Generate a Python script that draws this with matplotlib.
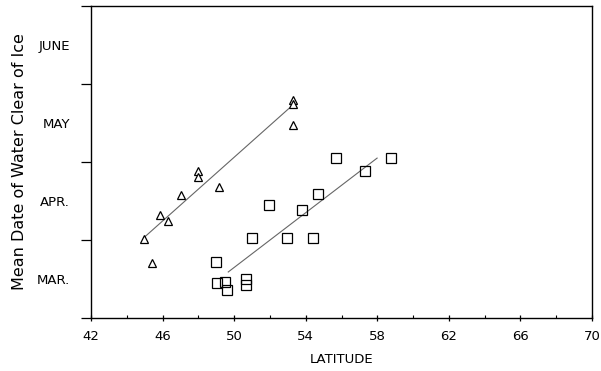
import matplotlib
matplotlib.use("Agg")
import matplotlib.pyplot as plt
import numpy as np

# Triangles (series A)
tri_lat = [44.98, 45.39, 45.87, 46.28, 47.03, 47.98, 47.98, 49.17, 53.27, 53.27, 53.27]
tri_date = [1.01, 0.71, 1.32, 1.25, 1.58, 1.88, 1.81, 1.68, 2.80, 2.74, 2.47]
tri_fit_lat = [44.98, 53.08]
tri_fit_date = [1.035, 2.69]

# Squares (series B)
sq_lat = [49.0, 49.02, 49.49, 49.58, 50.66, 50.66, 50.98, 51.96, 52.97, 53.81,
          54.42, 54.68, 55.71, 57.33, 58.78]
sq_date = [0.72, 0.45, 0.46, 0.36, 0.50, 0.42, 1.02, 1.45, 1.02, 1.38,
           1.02, 1.59, 2.05, 1.88, 2.05]
sq_fit_lat = [49.67, 57.99]
sq_fit_date = [0.59, 2.05]

x_ticks = [42, 46, 50, 54, 58, 62, 66, 70]
month_labels = ["MAR.", "APR.", "MAY", "JUNE"]
month_bounds = [0, 1, 2, 3, 4]

fig = plt.figure(figsize=(6.01, 3.71), dpi=100)
ax = fig.add_axes([91/601, 53/371, 501/601, 312/371])

ax.plot(tri_fit_lat, tri_fit_date, color="#666666", lw=0.8)
ax.plot(sq_fit_lat, sq_fit_date, color="#666666", lw=0.8)
ax.plot(tri_lat, tri_date, ls="none", marker="^", ms=6.3, mfc="white", mec="black", mew=0.9)
ax.plot(sq_lat, sq_date, ls="none", marker="s", ms=6.5, mfc="none", mec="black", mew=0.9)

ax.set_xlim(42, 70)
ax.set_ylim(0, 4)
ax.set_xticks(x_ticks)
ax.set_xticks(np.arange(42, 71, 2), minor=True)
ax.tick_params(axis="x", which="major", direction="inout", length=5, width=0.9, labelsize=9.5, pad=6)
ax.tick_params(axis="x", which="minor", direction="in", length=2.5, width=0.8)

ax.set_yticks(month_bounds)
ax.set_yticklabels([])
ax.set_yticks([b + 0.5 for b in month_bounds[:-1]], minor=True)
ax.set_yticklabels(month_labels, minor=True)
ax.tick_params(axis="y", which="major", direction="out", length=7, width=0.9)
ax.tick_params(axis="y", which="minor", length=0, labelsize=9.5, pad=15)

for s in ax.spines.values():
    s.set_linewidth(1.0)

ax.set_xlabel("LATITUDE", fontsize=9.5, labelpad=7)
ax.set_ylabel("Mean Date of Water Clear of Ice", fontsize=11.5, labelpad=7)

fig.savefig("out.png", dpi=100)
